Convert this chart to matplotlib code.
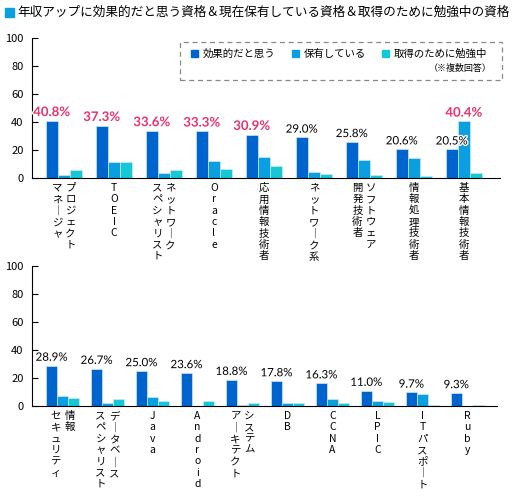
import matplotlib.pyplot as plt
import matplotlib.patheffects as pe
from matplotlib.patches import Rectangle
import numpy as np

plt.rcParams['font.family'] = ['Noto Sans CJK JP', 'DejaVu Sans']

# data (top panel)
top_labels = [["プロジェクト", "マネージャ"], ["TOEIC"], ["ネットワーク", "スペシャリスト"],
              ["Oracle"], ["応用情報技術者"], ["ネットワーク系"], ["ソフトウェア", "開発技術者"],
              ["情報処理技術者"], ["基本情報技術者"]]
top_effective = [40.8, 37.3, 33.6, 33.3, 30.9, 29.0, 25.8, 20.6, 20.5]
top_holding = [1.8, 11.2, 3.9, 11.8, 15.0, 4.3, 12.6, 14.0, 40.4]
top_studying = [5.7, 11.4, 5.9, 6.4, 8.8, 3.0, 2.0, 1.5, 3.8]

# data (bottom panel)
bot_labels = [["情報", "セキュリティ"], ["データベース", "スペシャリスト"], ["Java"], ["Android"],
              ["システム", "アーキテクト"], ["DB"], ["CCNA"], ["LPIC"], ["ITパスポート"], ["Ruby"]]
bot_effective = [28.9, 26.7, 25.0, 23.6, 18.8, 17.8, 16.3, 11.0, 9.7, 9.3]
bot_holding = [7.0, 2.4, 6.5, 0.0, 0.7, 2.4, 5.0, 3.6, 8.6, 0.3]
bot_studying = [5.5, 5.0, 3.4, 3.4, 1.9, 1.9, 2.4, 3.1, 0.7, 0.7]

series_names = ["効果的だと思う", "保有している", "取得のために勉強中"]
colors = ["#0064cf", "#0a9fe0", "#14c8d6"]
red = "#e8336d"
stroke = [pe.withStroke(linewidth=2, foreground="white")]

fig = plt.figure(figsize=(5.16, 5.0), dpi=100)


def vert(s):
    return "\n".join("｜" if c == "ー" else c for c in s)


def value_label(ax, x, v, hot):
    if hot:
        ax.text(x, v + 2, f"{v:.1f}%", ha="center", va="bottom", fontsize=9.5,
                color=red, fontweight="bold", family="Lato", path_effects=stroke, zorder=4)
    else:
        ax.text(x, v + 2, f"{v:.1f}%", ha="center", va="bottom", fontsize=8.3,
                color="black", family="Lato", path_effects=stroke, zorder=4)


def draw_panel(ax, labels, eff, hold, study, width, xmin, xmax, n_red, col_gap):
    x = np.arange(len(labels))
    for k, vals in enumerate([eff, hold, study]):
        ax.bar(x + (k - 1) * width, vals, width, color=colors[k],
               edgecolor="#cfe6f7", linewidth=0.5, zorder=2)
    for i, v in enumerate(eff):
        value_label(ax, x[i] - width, v, i < n_red)
    ax.set_xlim(xmin, xmax)
    ax.set_ylim(0, 100)
    ax.set_yticks([0, 20, 40, 60, 80, 100])
    ax.tick_params(axis="y", direction="in", length=4, labelsize=8, pad=6)
    ax.set_xticks([])
    for s in ["top", "right"]:
        ax.spines[s].set_visible(False)
    trans = ax.get_xaxis_transform()
    for i, lab in enumerate(labels):
        n = len(lab)
        for j, line in enumerate(lab):
            off = (n - 1) / 2 * col_gap - j * col_gap
            ax.text(x[i] + off, -0.035, vert(line), transform=trans, ha="center",
                    va="top", fontsize=7.5, linespacing=1.17)


ax1 = fig.add_axes([32 / 516, 0.644, 468 / 516, 0.28])
draw_panel(ax1, top_labels, top_effective, top_holding, top_studying,
           0.245, -0.64, 8.72, 5, 0.26)
# highlighted holding value for 基本情報技術者
value_label(ax1, 8, top_holding[8], True)

ax2 = fig.add_axes([32 / 516, 0.188, 465 / 516, 0.28])
draw_panel(ax2, bot_labels, bot_effective, bot_holding, bot_studying,
           0.245, -0.68, 9.66, 0, 0.31)

# title
fig.patches.append(Rectangle((5 / 516, 1 - 17 / 500), 9 / 516, 9 / 500,
                             transform=fig.transFigure, color="#0a9fe0"))
fig.text(17 / 516, 1 - 12.5 / 500,
         "年収アップに効果的だと思う資格＆現在保有している資格＆取得のために勉強中の資格",
         fontsize=9.1, va="center", ha="left")

# legend box
fig.patches.append(Rectangle((180 / 516, 1 - 80 / 500), 322 / 516, 38 / 500,
                             transform=fig.transFigure, fill=False, edgecolor="#888888",
                             linestyle=(0, (4, 3)), linewidth=0.9))
leg_x = [191, 292, 382]
for k, name in enumerate(series_names):
    fig.patches.append(Rectangle((leg_x[k] / 516, 1 - 57 / 500), 7 / 516, 7 / 500,
                                 transform=fig.transFigure, color=colors[k]))
    fig.text((leg_x[k] + 12) / 516, 1 - 53.5 / 500, name, fontsize=7.5, va="center")
fig.text(492 / 516, 1 - 68 / 500, "（※複数回答）", fontsize=6.5, va="center", ha="right")

fig.savefig("out.png", dpi=100)
